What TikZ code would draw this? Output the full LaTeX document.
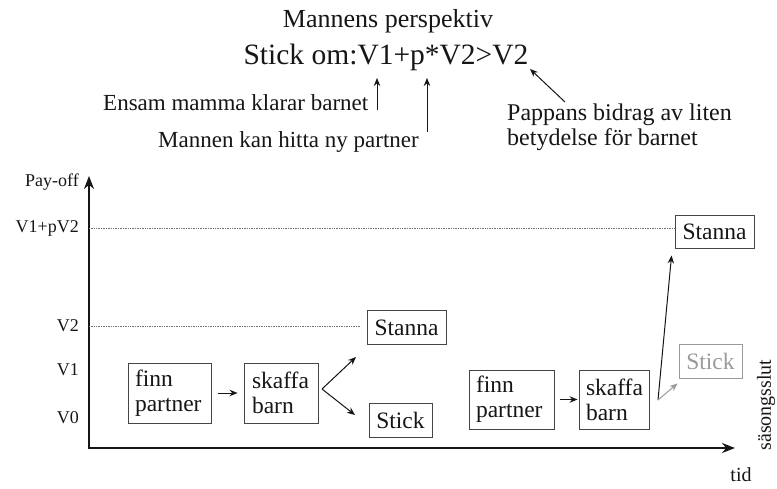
\documentclass[tikz,border=0pt]{standalone}
\usepackage{fontspec}
\setmainfont{Liberation Serif}
\usetikzlibrary{arrows.meta}
\definecolor{ink}{HTML}{161616}
\definecolor{faint}{HTML}{9A9A9A}
\definecolor{dotline}{HTML}{707070}
\tikzset{
  boxtext/.style={font=\fontsize{23.5}{25}\selectfont, text=ink},
  box/.style={boxtext, draw=ink!80, line width=0.9pt, inner sep=0pt},
  twobox/.style={box, align=left, inner xsep=7pt},
  axlabel/.style={font=\fontsize{18}{20}\selectfont, text=ink, anchor=east, inner sep=0pt},
  note/.style={font=\fontsize{23}{25}\selectfont, text=ink, anchor=base west, inner sep=0pt},
  smallarrow/.style={draw=ink, line width=1pt, -{Stealth[length=8pt,width=6.5pt]}},
  axis/.style={draw=ink, line width=2pt, -{Stealth[length=13pt,width=10pt]}},
  level/.style={draw=dotline, line width=0.7pt, densely dotted},
}
\begin{document}
\begin{tikzpicture}[x=1pt,y=-1pt]
\useasboundingbox (0,0) rectangle (777,488);

% titles
\node[font=\fontsize{26}{28}\selectfont, text=ink, anchor=base, inner sep=0pt] (title) at (388,27) {Mannens perspektiv};
\node[font=\fontsize{29.5}{31}\selectfont, text=ink, anchor=base, inner sep=0pt] (rule) at (386,64) {Stick om:V1+p*V2>V2};

% annotations
\node[note] (ensam) at (103,110) {Ensam mamma klarar barnet};
\node[note] (mannen) at (158,147) {Mannen kan hitta ny partner};
\node[note, font=\fontsize{24}{25}\selectfont, align=left, anchor=north west] (pappa) at (507,104) {Pappans bidrag av liten\\betydelse för barnet};

\coordinate (a1s) at (377,110);
\coordinate (a1e) at (377,78);
\coordinate (a2s) at (427,132);
\coordinate (a2e) at (427,78);
\coordinate (a3s) at (565,102);
\coordinate (a3e) at (530,69);
\draw[smallarrow] (a1s) -- (a1e);
\draw[smallarrow] (a2s) -- (a2e);
\draw[smallarrow] (a3s) -- (a3e);

% axes
\coordinate (origin) at (89,448);
\coordinate (ytop) at (89,176);
\coordinate (xend) at (735,448);
\draw[axis] ([yshift=1pt]origin) -- (ytop);
\draw[axis] ([xshift=-1pt]origin) -- (xend);

\node[axlabel] (payoff) at (79,182) {Pay-off};
\node[axlabel] (lv12) at (79,228) {V1+pV2};
\node[axlabel] (lv2) at (79,326) {V2};
\node[axlabel] (lv1) at (79,370) {V1};
\node[axlabel] (lv0) at (79,418) {V0};
\node[font=\fontsize{20}{22}\selectfont, text=ink, inner sep=0pt] (tid) at (741,475) {tid};
\node[font=\fontsize{20}{22}\selectfont, text=ink, inner sep=0pt, rotate=90] (slut) at (766,405) {säsongsslut};

% first season
\node[twobox, text width=69pt, minimum height=60pt] (fp1) at (169.5,393) {finn\\partner};
\node[twobox, inner xsep=8pt, text width=58pt, minimum height=60pt] (sk1) at (281,393) {skaffa\\barn};
\node[box, minimum width=79pt, minimum height=34pt] (st1) at (406.5,327.5) {Stanna};
\node[box, minimum width=63pt, minimum height=34pt] (sc1) at (400.5,420) {Stick};

\draw[smallarrow, shorten <=7pt, shorten >=6pt] (fp1) -- (sk1);
\coordinate (br1) at (322,389);
\coordinate (up1) at (356,357);
\coordinate (dn1) at (355,415);
\draw[smallarrow] (br1) -- (up1);
\draw[smallarrow] (br1) -- (dn1);

% second season
\node[twobox, text width=71pt, minimum height=59pt] (fp2) at (511.5,399.5) {finn\\partner};
\node[twobox, inner xsep=7pt, text width=56pt, minimum height=59pt] (sk2) at (614,399.5) {skaffa\\barn};
\node[box, minimum width=79pt, minimum height=33pt] (st2) at (714.5,231.5) {Stanna};
\node[box, draw=faint, text=faint, minimum width=63pt, minimum height=34pt] (sc2) at (710.5,361) {Stick};

\draw[smallarrow, shorten <=6pt, shorten >=1pt] (fp2) -- (sk2);
\coordinate (br2) at (658,400);
\draw[smallarrow] (br2) -- ([xshift=-3pt,yshift=-7pt]st2.south west);
\draw[draw=faint, line width=1pt, -{Stealth[length=8pt,width=6.5pt]}] (br2) -- ([xshift=-1pt,yshift=-5pt]sc2.south west);

% levels
\draw[level] (origin |- lv12) -- (st2.west |- lv12);
\draw[level] (origin |- lv2) -- ([xshift=-7pt]st1.west |- lv2);
\end{tikzpicture}
\end{document}
